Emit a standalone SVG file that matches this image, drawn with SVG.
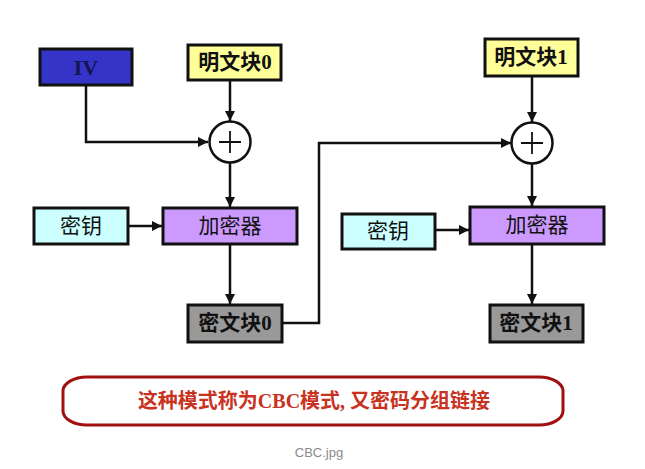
<svg xmlns="http://www.w3.org/2000/svg" width="645" height="469" viewBox="0 0 645 469">
<style>
.box{stroke:#111;stroke-width:3}
.t{font-family:"Liberation Serif","Noto Sans CJK SC",serif;font-size:21px;fill:#111;text-anchor:middle;dominant-baseline:central}
.b{font-weight:bold}
.ln{fill:none;stroke:#111;stroke-width:2.5}
</style>
<defs>
<marker id="ah" viewBox="0 0 10 10" refX="10" refY="5" markerWidth="4" markerHeight="4" orient="auto" markerUnits="strokeWidth">
<path d="M0,0 L10,5 L0,10 z" fill="#111"/>
</marker>
</defs>
<rect width="645" height="469" fill="#fff"/>
<g id="connectors">
<path class="ln" d="M86,85 V142 H208" marker-end="url(#ah)"/>
<path class="ln" d="M230,80 V121" marker-end="url(#ah)"/>
<path class="ln" d="M230,163 V207" marker-end="url(#ah)"/>
<path class="ln" d="M128,226 H162" marker-end="url(#ah)"/>
<path class="ln" d="M230,244 V304" marker-end="url(#ah)"/>
<path class="ln" d="M282,323 H319 V143 H511" marker-end="url(#ah)"/>
<path class="ln" d="M532,76 V122" marker-end="url(#ah)"/>
<path class="ln" d="M532,164 V206" marker-end="url(#ah)"/>
<path class="ln" d="M435,230 H469" marker-end="url(#ah)"/>
<path class="ln" d="M532,244 V304" marker-end="url(#ah)"/>
</g>
<g id="iv">
<rect class="box" x="40" y="49" width="92" height="36" fill="#3434c8"/>
<text class="t b" x="86" y="67" style="fill:#141450;font-size:22px">IV</text>
</g>
<g id="p0">
<rect class="box" x="188" y="45" width="93" height="35" fill="#ffff99"/>
<text class="t b" x="235" y="62">明文块0</text>
</g>
<g id="xor0">
<circle cx="230" cy="142" r="20.5" fill="#fff" stroke="#111" stroke-width="2.5"/>
<path d="M219,142 H241 M230,131 V153" stroke="#111" stroke-width="1.8"/>
</g>
<g id="k0">
<rect class="box" x="34" y="208" width="94" height="36" fill="#ccffff"/>
<text class="t" x="81" y="226">密钥</text>
</g>
<g id="e0">
<rect class="box" x="163" y="208" width="134" height="36" fill="#cc99ff"/>
<text class="t" x="230" y="226">加密器</text>
</g>
<g id="c0">
<rect class="box" x="188" y="305" width="94" height="37" fill="#999999"/>
<text class="t b" x="235" y="323">密文块0</text>
</g>
<g id="p1">
<rect class="box" x="485" y="39" width="93" height="37" fill="#ffff99"/>
<text class="t b" x="531" y="57">明文块1</text>
</g>
<g id="xor1">
<circle cx="532" cy="143" r="20.5" fill="#fff" stroke="#111" stroke-width="2.5"/>
<path d="M521,143 H543 M532,132 V154" stroke="#111" stroke-width="1.8"/>
</g>
<g id="k1">
<rect class="box" x="342" y="214" width="93" height="35" fill="#ccffff"/>
<text class="t" x="388" y="231">密钥</text>
</g>
<g id="e1">
<rect class="box" x="470" y="207" width="134" height="37" fill="#cc99ff"/>
<text class="t" x="537" y="225">加密器</text>
</g>
<g id="c1">
<rect class="box" x="490" y="305" width="93" height="37" fill="#999999"/>
<text class="t b" x="536" y="323">密文块1</text>
</g>
<g id="note">
<rect x="63" y="377" width="500" height="48" rx="24" ry="14" fill="#fff" stroke="#a01010" stroke-width="3"/>
<text class="t b" x="314" y="401" style="fill:#c8321e;font-size:20px">这种模式称为CBC模式, 又密码分组链接</text>
</g>
<text x="319" y="452" font-family="'Liberation Sans',Arial,sans-serif" font-size="13" fill="#8a8a8a" text-anchor="middle" dominant-baseline="central">CBC.jpg</text>
</svg>
